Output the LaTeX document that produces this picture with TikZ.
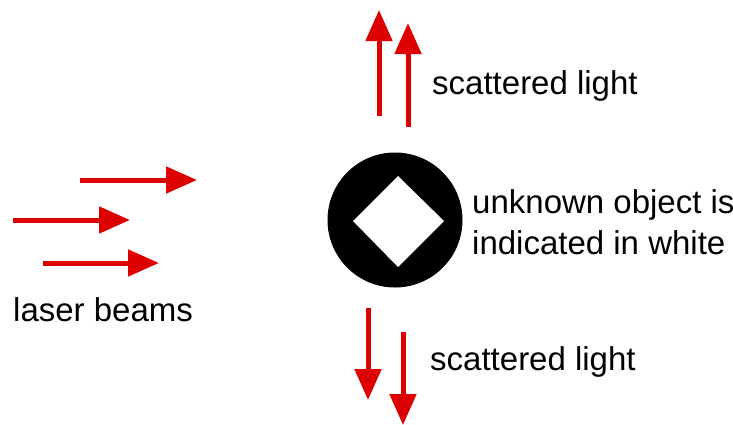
\documentclass[tikz,border=0pt]{standalone}
\usepackage{fontspec}
\setmainfont{Liberation Sans}
\usetikzlibrary{arrows.meta}
\definecolor{beamred}{RGB}{221,0,0}
\tikzset{
  beam/.style={draw=beamred, line width=5pt, -{Triangle[length=31pt,width=26pt]}},
  lbl/.style={font=\fontsize{33}{40}\selectfont, inner sep=0pt, anchor=west}
}
\begin{document}
\begin{tikzpicture}[x=1pt,y=-1pt]
  \useasboundingbox (0,0) rectangle (733,424);
  % laser beams coming from the left
  \coordinate (l1s) at (80,180);  \coordinate (l1e) at (197,180);
  \coordinate (l2s) at (13,220);  \coordinate (l2e) at (130,220);
  \coordinate (l3s) at (43,263);  \coordinate (l3e) at (159,263);
  \draw[beam] (l1s) -- (l1e);
  \draw[beam] (l2s) -- (l2e);
  \draw[beam] (l3s) -- (l3e);
  % scattered light, upwards
  \coordinate (u1s) at (379,116); \coordinate (u1e) at (379,10);
  \coordinate (u2s) at (408,127); \coordinate (u2e) at (408,23);
  \draw[beam] (u1s) -- (u1e);
  \draw[beam] (u2s) -- (u2e);
  % scattered light, downwards
  \coordinate (d1s) at (368,308); \coordinate (d1e) at (368,400);
  \coordinate (d2s) at (403,332); \coordinate (d2e) at (403,425);
  \draw[beam] (d1s) -- (d1e);
  \draw[beam] (d2s) -- (d2e);
  % object: black disc with white square turned on its corner
  \node[circle, fill=black, minimum size=135pt, inner sep=0pt] (obj) at (395,220) {};
  \fill[white] (398,176) -- (444,221) -- (398,267) -- (353,221) -- cycle;
  % labels
  \node[lbl] (tup) at (432,86) {scattered light};
  \node[lbl] (tdown) at (430,362) {scattered light};
  \node[lbl] (tobj1) at (472,205) {unknown object is};
  \node[lbl] (tobj2) at (472,243) {indicated in white};
  \node[lbl] (tlaser) at (13,310) {laser beams};
\end{tikzpicture}
\end{document}
